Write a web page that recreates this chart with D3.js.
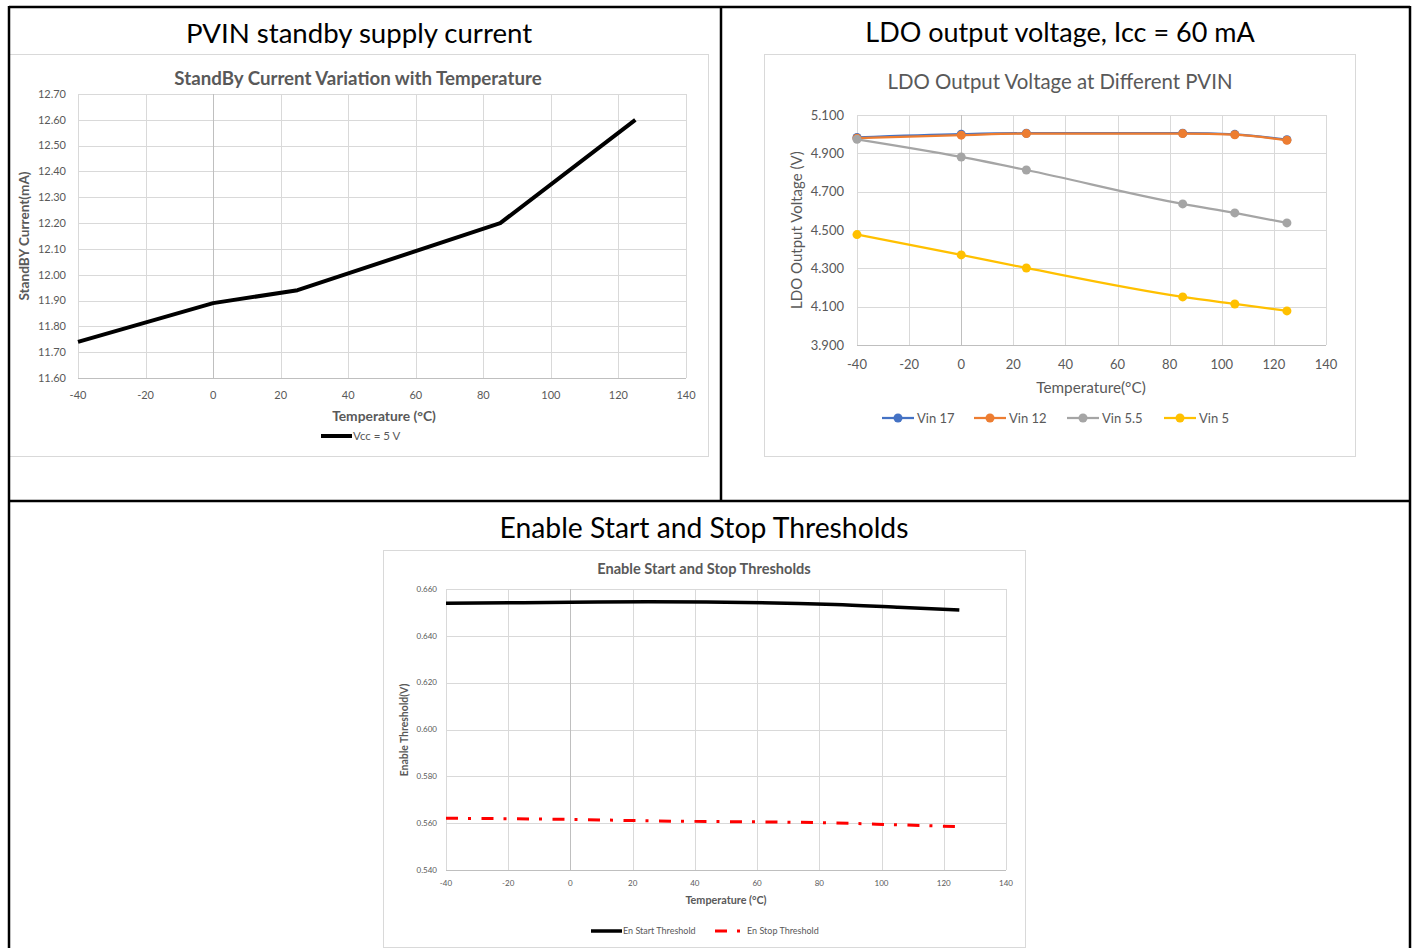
<!DOCTYPE html>
<html>
<head>
<meta charset="utf-8">
<script src="https://cdn.jsdelivr.net/npm/d3@7/dist/d3.min.js"></script>
<style>
  body { margin: 0; background: #fff; }
  svg { display: block; font-family: Lato, "Open Sans", sans-serif; }
</style>
</head>
<body>
<svg width="1416" height="948"></svg>
<script>
// shared temperature axis
const tempTicks = [-40, -20, 0, 20, 40, 60, 80, 100, 120, 140];

// PVIN standby supply current
const standbyTemps = [-40, 0, 25, 85, 125];
const standbyCurrent = [11.74, 11.89, 11.94, 12.20, 12.60];
const standbyTicks = [11.6, 11.7, 11.8, 11.9, 12.0, 12.1, 12.2, 12.3, 12.4, 12.5, 12.6, 12.7];

// LDO output voltage
const ldoTemps = [-40, 0, 25, 85, 105, 125];
const ldoNames = ['Vin 17', 'Vin 12', 'Vin 5.5', 'Vin 5'];
const ldoColors = ['#4472C4', '#ED7D31', '#A5A5A5', '#FFC000'];
const vin17 = [4.983, 5.000, 5.005, 5.005, 4.999, 4.971];
const vin12 = [4.979, 4.995, 5.003, 5.003, 4.997, 4.968];
const vin55 = [4.973, 4.881, 4.813, 4.636, 4.589, 4.537];
const vin5 = [4.476, 4.370, 4.302, 4.151, 4.114, 4.078];
const ldoTicks = [3.9, 4.1, 4.3, 4.5, 4.7, 4.9, 5.1];

// Enable thresholds
const enTemps = [-40, 0, 25, 85, 105, 125];
const enStart = [0.6539, 0.6543, 0.6546, 0.6534, 0.6522, 0.6510];
const enStop = [0.5621, 0.5616, 0.5610, 0.5601, 0.5593, 0.5585];
const enTicks = [0.54, 0.56, 0.58, 0.60, 0.62, 0.64, 0.66];

const svg = d3.select('svg');
const grey = '#595959';
const stopDash = '12,10,3,10.5';

svg.append('rect').attr('width', 1416).attr('height', 948).attr('fill', '#fff');

// panel boxes
function box(x0, y0, x1, y1) {
  svg.append('rect')
    .attr('x', x0 + 0.5).attr('y', y0 + 0.5)
    .attr('width', x1 - x0).attr('height', y1 - y0)
    .attr('fill', '#fff').attr('stroke', '#d9d9d9');
}

// gridlines, tick labels, axis line
function frame(x, y, yTicks, fmt, o) {
  const g = svg.append('g');
  g.selectAll('.hg').data(yTicks).enter().append('line')
    .attr('x1', x.range()[0]).attr('x2', x.range()[1])
    .attr('y1', d => Math.round(y(d)) + 0.5).attr('y2', d => Math.round(y(d)) + 0.5)
    .attr('stroke', (d, i) => i === 0 ? '#bfbfbf' : '#d9d9d9');
  g.selectAll('.vg').data(tempTicks).enter().append('line')
    .attr('x1', d => Math.round(x(d)) + 0.5).attr('x2', d => Math.round(x(d)) + 0.5)
    .attr('y1', y.range()[0]).attr('y2', y.range()[1])
    .attr('stroke', d => d === 0 ? '#bfbfbf' : '#d9d9d9');
  g.selectAll('.yl').data(yTicks).enter().append('text')
    .attr('x', x.range()[0] - o.ypad).attr('y', d => y(d))
    .attr('dy', '0.35em').attr('text-anchor', 'end')
    .attr('font-size', o.tick).attr('fill', grey)
    .text(d => d3.format(fmt)(d));
  g.selectAll('.xl').data(tempTicks).enter().append('text')
    .attr('x', d => x(d)).attr('y', y.range()[0] + o.xpad)
    .attr('dy', '0.35em').attr('text-anchor', 'middle')
    .attr('font-size', o.tick).attr('fill', grey)
    .text(d => d);
}

function label(x, y, txt, size, weight, rotate) {
  const t = svg.append('text')
    .attr('text-anchor', 'middle').attr('dy', '0.35em')
    .attr('font-size', size).attr('font-weight', weight || 'normal')
    .attr('fill', grey).text(txt);
  if (rotate) t.attr('transform', `translate(${x},${y}) rotate(-90)`);
  else t.attr('x', x).attr('y', y);
  return t;
}

// table headers
[['PVIN standby supply current', 359, 33, 27.6],
 ['LDO output voltage, Icc = 60 mA', 1060, 33, 27],
 ['Enable Start and Stop Thresholds', 704, 528, 28.3]].forEach(d => {
  svg.append('text').attr('x', d[1]).attr('y', d[2]).attr('dy', '0.35em')
    .attr('text-anchor', 'middle').attr('font-size', d[3]).attr('fill', '#000').text(d[0]);
});

// ---- chart 1: standby current
box(9, 54, 708, 456);
const x1 = d3.scaleLinear().domain([-40, 140]).range([78, 686]);
const y1 = d3.scaleLinear().domain([11.6, 12.7]).range([378, 94]);
frame(x1, y1, standbyTicks, '.2f', {tick: 11, ypad: 12, xpad: 17});
svg.append('path')
  .datum(standbyTemps.map((t, i) => [t, standbyCurrent[i]]))
  .attr('fill', 'none').attr('stroke', '#000').attr('stroke-width', 4)
  .attr('stroke-linejoin', 'round')
  .attr('d', d3.line().x(d => x1(d[0])).y(d => y1(d[1])));
label(358, 78, 'StandBy Current Variation with Temperature', 18.7, 'bold');
label(384, 416, 'Temperature (°C)', 13.8, 'bold');
label(24, 236, 'StandBY Current(mA)', 13.6, 'bold', true);
svg.append('line').attr('x1', 321).attr('x2', 352).attr('y1', 436).attr('y2', 436)
  .attr('stroke', '#000').attr('stroke-width', 4);
svg.append('text').attr('x', 353).attr('y', 436).attr('dy', '0.35em')
  .attr('font-size', 11.5).attr('fill', grey).text('Vcc = 5 V');

// ---- chart 2: LDO output voltage
box(764, 54, 1355, 456);
const x2 = d3.scaleLinear().domain([-40, 140]).range([857, 1326]);
const y2 = d3.scaleLinear().domain([3.9, 5.1]).range([345, 115]);
frame(x2, y2, ldoTicks, '.3f', {tick: 13, ypad: 13, xpad: 19});
const ldoSeries = [vin17, vin12, vin55, vin5];
const line2 = d3.line().curve(d3.curveMonotoneX).x(d => x2(d[0])).y(d => y2(d[1]));
ldoSeries.forEach((vals, k) => {
  const pts = ldoTemps.map((t, i) => [t, vals[i]]);
  const g = svg.append('g');
  g.append('path').datum(pts).attr('fill', 'none')
    .attr('stroke', ldoColors[k]).attr('stroke-width', 2.25).attr('d', line2);
  g.selectAll('circle').data(pts).enter().append('circle')
    .attr('cx', d => x2(d[0])).attr('cy', d => y2(d[1])).attr('r', 4.5)
    .attr('fill', ldoColors[k]);
});
label(1060, 82, 'LDO Output Voltage at Different PVIN', 20.4);
label(1091, 388, 'Temperature(°C)', 15.3);
label(797, 230, 'LDO Output Voltage (V)', 15, 'normal', true);
const legX = [882, 974, 1067, 1164];
ldoNames.forEach((n, k) => {
  const lx = legX[k];
  svg.append('line').attr('x1', lx).attr('x2', lx + 32).attr('y1', 418).attr('y2', 418)
    .attr('stroke', ldoColors[k]).attr('stroke-width', 2.25);
  svg.append('circle').attr('cx', lx + 16).attr('cy', 418).attr('r', 4.5).attr('fill', ldoColors[k]);
  svg.append('text').attr('x', lx + 35).attr('y', 418).attr('dy', '0.35em')
    .attr('font-size', 13).attr('fill', grey).text(n);
});

// ---- chart 3: enable thresholds
box(383, 550, 1025, 947);
const x3 = d3.scaleLinear().domain([-40, 140]).range([446, 1006]);
const y3 = d3.scaleLinear().domain([0.54, 0.66]).range([870, 589]);
frame(x3, y3, enTicks, '.3f', {tick: 8, ypad: 9, xpad: 13});
const line3 = d3.line().curve(d3.curveMonotoneX).x(d => x3(d[0])).y(d => y3(d[1]));
svg.append('path').datum(enTemps.map((t, i) => [t, enStart[i]]))
  .attr('fill', 'none').attr('stroke', '#000').attr('stroke-width', 3.5).attr('d', line3);
svg.append('path').datum(enTemps.map((t, i) => [t, enStop[i]]))
  .attr('fill', 'none').attr('stroke', '#ff0000').attr('stroke-width', 3)
  .attr('stroke-dasharray', stopDash).attr('d', line3);
label(704, 569, 'Enable Start and Stop Thresholds', 14.6, 'bold');
label(726, 900, 'Temperature (°C)', 10.8, 'bold');
label(404, 730, 'Enable Threshold(V)', 10.4, 'bold', true);
svg.append('line').attr('x1', 591).attr('x2', 622).attr('y1', 931).attr('y2', 931)
  .attr('stroke', '#000').attr('stroke-width', 3.5);
svg.append('text').attr('x', 623).attr('y', 931).attr('dy', '0.35em')
  .attr('font-size', 9).attr('fill', grey).text('En Start Threshold');
svg.append('line').attr('x1', 715).attr('x2', 741).attr('y1', 931).attr('y2', 931)
  .attr('stroke', '#ff0000').attr('stroke-width', 3).attr('stroke-dasharray', stopDash);
svg.append('text').attr('x', 747).attr('y', 931).attr('dy', '0.35em')
  .attr('font-size', 9).attr('fill', grey).text('En Stop Threshold');

// table rules
const rules = [
  [9, 7, 1410, 7], [9, 501, 1410, 501],
  [9, 6, 9, 948], [1410, 6, 1410, 948], [721, 6, 721, 501]
];
svg.selectAll('.rule').data(rules).enter().append('line')
  .attr('x1', d => d[0]).attr('y1', d => d[1]).attr('x2', d => d[2]).attr('y2', d => d[3])
  .attr('stroke', '#000').attr('stroke-width', 2.5);
</script>
</body>
</html>
